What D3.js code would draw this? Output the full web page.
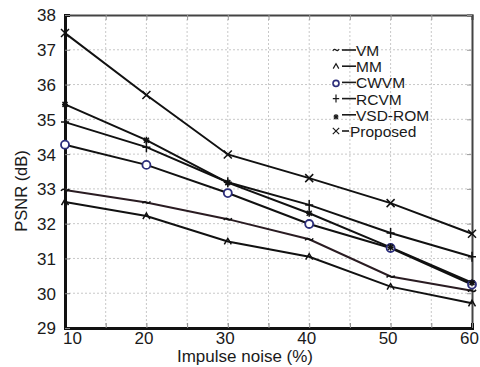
<!DOCTYPE html>
<html>
<head>
<meta charset="utf-8">
<script src="https://cdn.jsdelivr.net/npm/d3@7"></script>
<style>
  body { margin: 0; background: #fff; }
  text { font-family: "Liberation Sans", Arial, sans-serif; fill: #1a1a1a; }
</style>
</head>
<body>
<div id="chart"></div>
<script>
var svgWidth = 480;
var svgHeight = 367;

var margin = { top: 15, right: 8, bottom: 39, left: 65 };
var width = svgWidth - margin.left - margin.right;
var height = svgHeight - margin.top - margin.bottom;

// data
var noise = [10, 20, 30, 40, 50, 60];
var vm = [32.97, 32.61, 32.13, 31.55, 30.48, 30.07];
var mm = [32.62, 32.22, 31.49, 31.05, 30.19, 29.71];
var cwvm = [34.27, 33.69, 32.88, 31.99, 31.30, 30.25];
var rcvm = [34.92, 34.20, 33.19, 32.54, 31.73, 31.05];
var vsdrom = [35.43, 34.40, 33.18, 32.30, 31.32, 30.30];
var proposed = [37.48, 35.70, 33.99, 33.31, 32.59, 31.71];

var seriesNames = ["VM", "MM", "CWVM", "RCVM", "VSD-ROM", "Proposed"];
var seriesValues = [vm, mm, cwvm, rcvm, vsdrom, proposed];
var markerKinds = ["tilde", "caret", "circle", "plus", "star", "cross"];

var xTicks = [10, 15, 20, 25, 30, 35, 40, 45, 50, 55, 60];
var yTicks = [29, 30, 31, 32, 33, 34, 35, 36, 37, 38];

var svg = d3.select("#chart")
    .append("svg")
    .attr("width", svgWidth)
    .attr("height", svgHeight);

var chartGroup = svg.append("g")
    .attr("transform", `translate(${margin.left}, ${margin.top})`);

var xScale = d3.scaleLinear().domain([10, 60]).range([0, width]);
var yScale = d3.scaleLinear().domain([29, 38]).range([height, 0]);

// dotted grid
chartGroup.append("g").selectAll("line")
    .data(xTicks.slice(1, -1))
    .enter().append("line")
    .attr("x1", d => xScale(d)).attr("x2", d => xScale(d))
    .attr("y1", 0).attr("y2", height)
    .attr("stroke", "#c8c8c8").attr("stroke-width", 1)
    .attr("stroke-dasharray", "2,2");

chartGroup.append("g").selectAll("line")
    .data(yTicks.slice(1, -1))
    .enter().append("line")
    .attr("y1", d => yScale(d)).attr("y2", d => yScale(d))
    .attr("x1", 0).attr("x2", width)
    .attr("stroke", "#c8c8c8").attr("stroke-width", 1)
    .attr("stroke-dasharray", "2,2");

// axes with inward ticks on all four sides
var bottomAxis = d3.axisBottom(xScale).tickValues(xTicks).tickSize(-5)
    .tickFormat(d => d % 10 === 0 ? d : "");
var topAxis = d3.axisTop(xScale).tickValues(xTicks).tickSize(-5).tickFormat("");
var leftAxis = d3.axisLeft(yScale).tickValues(yTicks).tickSize(-5);
var rightAxis = d3.axisRight(yScale).tickValues(yTicks).tickSize(-5).tickFormat("");

var gTop = chartGroup.append("g").call(topAxis);
var gRight = chartGroup.append("g").attr("transform", `translate(${width},0)`).call(rightAxis);
var gBottom = chartGroup.append("g").attr("transform", `translate(0,${height})`).call(bottomAxis);
var gLeft = chartGroup.append("g").call(leftAxis);

[gTop, gRight].forEach(function (g) {
    g.select(".domain").attr("stroke", "#444").attr("stroke-width", 2);
    g.selectAll(".tick line").attr("stroke", "#999");
});
[gBottom, gLeft].forEach(function (g) {
    g.select(".domain").attr("stroke", "#111").attr("stroke-width", 3);
    g.selectAll(".tick line").attr("stroke", "#888");
    g.selectAll(".tick text").style("font-size", "17px").attr("fill", "#1a1a1a");
});

gBottom.selectAll(".tick text")
    .attr("y", 16).attr("dy", 0)
    .attr("dx", d => d === 10 ? 7 : -3);
gLeft.selectAll(".tick text").attr("x", -9).attr("dy", "0.35em");

// lines
var line = d3.line()
    .x((d, i) => xScale(noise[i]))
    .y(d => yScale(d));

var lineColors = ["#2a1c22", "#111", "#111", "#111", "#111", "#111"];

chartGroup.append("g").selectAll("path")
    .data(seriesValues)
    .enter().append("path")
    .attr("d", d => line(d))
    .attr("fill", "none")
    .attr("stroke", (d, i) => lineColors[i])
    .attr("stroke-width", 2);

// markers
function markerPath(kind) {
    var p = d3.path();
    if (kind === "cross") {
        p.moveTo(-4, -4); p.lineTo(4, 4); p.moveTo(4, -4); p.lineTo(-4, 4);
    } else if (kind === "plus") {
        p.moveTo(-4, 0); p.lineTo(4, 0); p.moveTo(0, -5); p.lineTo(0, 5);
    } else if (kind === "star") {
        p.moveTo(-3, 0); p.lineTo(3, 0); p.moveTo(0, -3.5); p.lineTo(0, 3.5);
        p.moveTo(-2.5, -2.5); p.lineTo(2.5, 2.5); p.moveTo(2.5, -2.5); p.lineTo(-2.5, 2.5);
    } else if (kind === "caret") {
        p.moveTo(-3.5, 3); p.lineTo(0, -3); p.lineTo(3.5, 3);
    } else if (kind === "tilde") {
        p.moveTo(-4, 1); p.quadraticCurveTo(-2, -2, 0, 0); p.quadraticCurveTo(2, 2, 4, -1);
    }
    return p.toString();
}

seriesValues.forEach(function (vals, s) {
    var kind = markerKinds[s];
    var g = chartGroup.append("g");
    var pts = g.selectAll(".m")
        .data(vals)
        .enter();
    if (kind === "circle") {
        pts.append("circle")
            .attr("cx", (d, i) => xScale(noise[i]))
            .attr("cy", d => yScale(d))
            .attr("r", 4)
            .attr("fill", "#fff")
            .attr("stroke", "#2b2d7a")
            .attr("stroke-width", 1.8);
    } else {
        pts.append("path")
            .attr("transform", (d, i) => `translate(${xScale(noise[i])},${yScale(d)})`)
            .attr("d", markerPath(kind))
            .attr("fill", "none")
            .attr("stroke", "#111")
            .attr("stroke-width", 1.5);
    }
});

// legend
var legend = chartGroup.append("g")
    .attr("transform", "translate(268, 41)");

var rows = legend.selectAll("g")
    .data(seriesNames)
    .enter().append("g")
    .attr("transform", (d, i) => `translate(0, ${i * 16.2})`);

rows.each(function (d, i) {
    var row = d3.select(this);
    if (markerKinds[i] === "circle") {
        row.append("circle")
            .attr("cx", 3).attr("cy", -5).attr("r", 3)
            .attr("fill", "none").attr("stroke", "#2b2d7a").attr("stroke-width", 1.6);
    } else {
        row.append("path")
            .attr("transform", `translate(3,${markerKinds[i] === "star" ? -4 : -6}) scale(0.8)`)
            .attr("d", markerPath(markerKinds[i]))
            .attr("fill", "none").attr("stroke", "#1a1a1a").attr("stroke-width", 1.5);
    }
});

rows.append("line")
    .attr("x1", 9).attr("x2", (d, i) => i === 5 ? 16 : 23)
    .attr("y1", -6).attr("y2", -6)
    .attr("stroke", "#1a1a1a").attr("stroke-width", 1.6);

rows.append("text")
    .attr("x", (d, i) => i === 5 ? 17 : 23)
    .attr("y", 0)
    .style("font-size", "15.5px")
    .text(d => d);

// axis titles
svg.append("text")
    .attr("x", 245).attr("y", 362)
    .attr("text-anchor", "middle")
    .style("font-size", "17px")
    .text("Impulse noise (%)");

svg.append("text")
    .attr("transform", "translate(27, 191) rotate(-90)")
    .attr("text-anchor", "middle")
    .style("font-size", "16.5px")
    .text("PSNR (dB)");
</script>
</body>
</html>
